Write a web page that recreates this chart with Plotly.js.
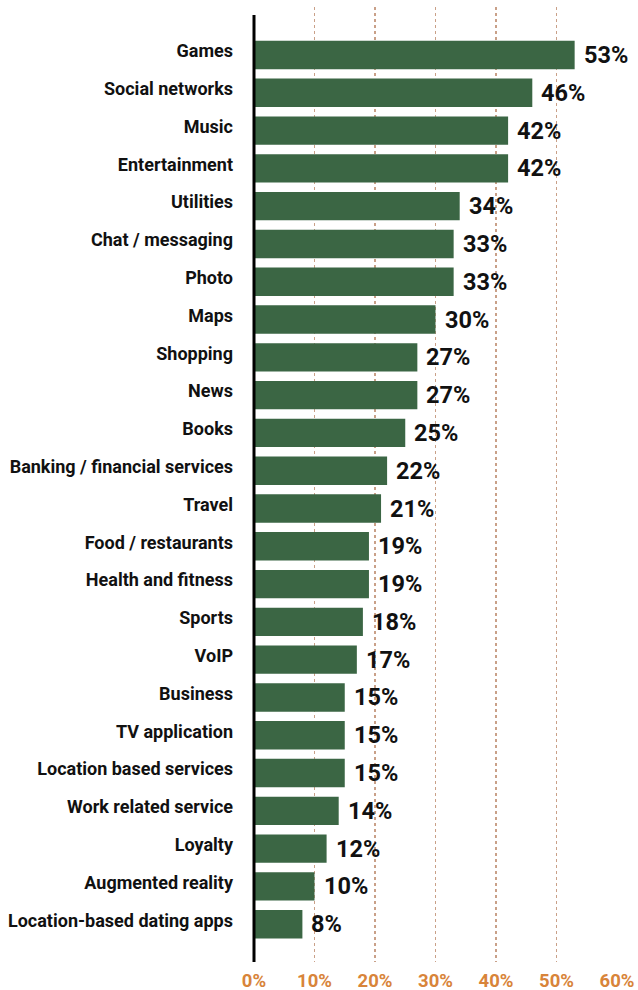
<!DOCTYPE html>
<html>
<head>
<meta charset="utf-8">
<script src="https://cdn.plot.ly/plotly-3.0.1.min.js"></script>
<style>html,body{margin:0;padding:0;background:#fff;}#chart{width:638px;height:990px;}</style>
</head>
<body>
<div id="chart"></div>
<script>
const categories = ["Games","Social networks","Music","Entertainment","Utilities","Chat / messaging","Photo","Maps","Shopping","News","Books","Banking / financial services","Travel","Food / restaurants","Health and fitness","Sports","VoIP","Business","TV application","Location based services","Work related service","Loyalty","Augmented reality","Location-based dating apps"];
const values = [53,46,42,42,34,33,33,30,27,27,25,22,21,19,19,18,17,15,15,15,14,12,10,8];
const tickVals = [0,10,20,30,40,50,60];
const tickLabels = ["0%","10%","20%","30%","40%","50%","60%"];

const FONT = "Roboto, sans-serif";

const trace = {
  type: "bar",
  orientation: "h",
  x: values,
  y: categories,
  marker: {color: "#3b6644"},
  width: 0.75,
  hoverinfo: "none"
};

const annotations = categories.map((c, i) => ({
  x: values[i], y: c, xref: "x", yref: "y",
  text: values[i] + "%",
  showarrow: false, xanchor: "left", yanchor: "middle", xshift: 7,
  font: {family: FONT, size: 23.5, color: "#111", weight: "bold"}
}));

const layout = {
  width: 638, height: 990,
  margin: {l: 254, r: 21, t: 7, b: 28},
  paper_bgcolor: "#fff", plot_bgcolor: "#fff",
  showlegend: false,
  bargap: 0.25,
  xaxis: {
    range: [0, 60],
    tickvals: tickVals, ticktext: tickLabels,
    showgrid: true, gridcolor: "#c9a088", gridwidth: 1.5, griddash: "dot",
    zeroline: false, showline: false, ticks: "",
    ticklabelstandoff: 5,
    tickfont: {family: FONT, size: 18.5, color: "#d8843a", weight: "bold"},
    fixedrange: true
  },
  yaxis: {
    type: "category",
    categoryorder: "array", categoryarray: categories,
    range: [24.0, -1.27],
    showgrid: false, zeroline: false, showline: false, ticks: "",
    ticklabelstandoff: 20,
    ticklabelshift: 4,
    tickfont: {family: FONT, size: 18, color: "#111", weight: "bold"},
    fixedrange: true
  },
  shapes: [{
    type: "line", xref: "paper", yref: "paper",
    x0: 0, x1: 0, y0: 0, y1: (962 - 15) / 955,
    line: {color: "#000", width: 3}
  }],
  annotations: annotations
};

Plotly.newPlot("chart", [trace], layout, {displayModeBar: false, staticPlot: true});
</script>
</body>
</html>
